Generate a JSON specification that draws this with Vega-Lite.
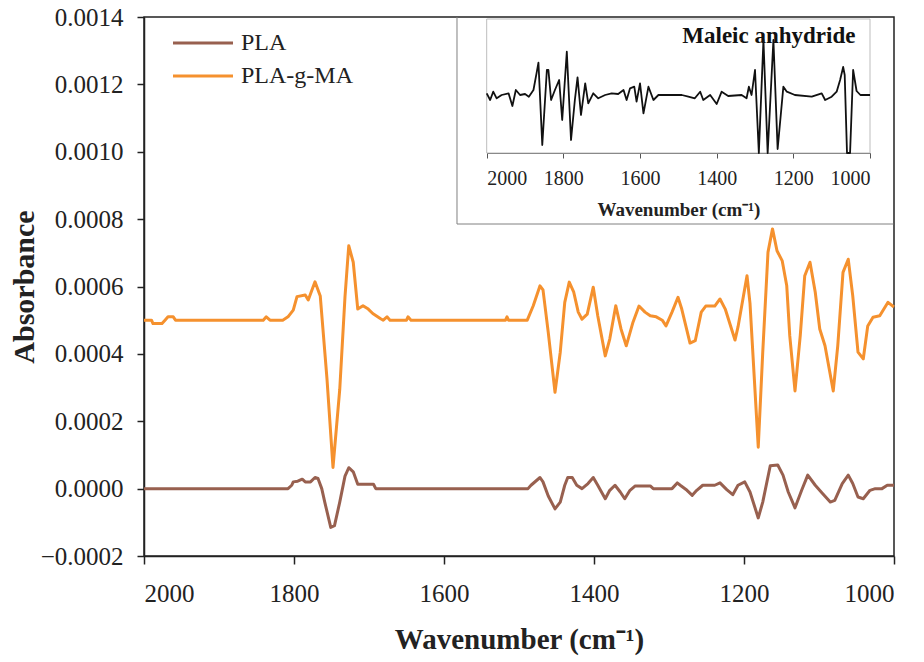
{
  "$schema": "https://vega.github.io/schema/vega-lite/v6.json",
  "width": 750,
  "height": 539,
  "autosize": {"type": "none"},
  "padding": {"left": 144, "top": 17, "right": 30, "bottom": 106},
  "background": "white",
  "config": {
    "font": "Liberation Serif",
    "view": {"stroke": "#222222", "strokeWidth": 1.5},
    "axis": {"grid": false, "labelFont": "Liberation Serif", "titleFont": "Liberation Serif", "labelColor": "#222222", "titleColor": "#222222", "domainColor": "#222222", "tickColor": "#222222"},
    "legend": {"labelFont": "Liberation Serif"},
    "style": {"guide-label": {"font": "Liberation Serif"}, "guide-title": {"font": "Liberation Serif"}}
  },
  "datasets": {
    "spectra": [
      {"series": "PLA", "wavenumber": 2000, "absorbance": 0},
      {"series": "PLA", "wavenumber": 1808, "absorbance": 0},
      {"series": "PLA", "wavenumber": 1803, "absorbance": 0.00001},
      {"series": "PLA", "wavenumber": 1801, "absorbance": 0.00002},
      {"series": "PLA", "wavenumber": 1795, "absorbance": 0.000022},
      {"series": "PLA", "wavenumber": 1789, "absorbance": 0.000028},
      {"series": "PLA", "wavenumber": 1785, "absorbance": 0.00002},
      {"series": "PLA", "wavenumber": 1778, "absorbance": 0.00002},
      {"series": "PLA", "wavenumber": 1772, "absorbance": 0.000033},
      {"series": "PLA", "wavenumber": 1768, "absorbance": 0.00003},
      {"series": "PLA", "wavenumber": 1763, "absorbance": 0},
      {"series": "PLA", "wavenumber": 1759, "absorbance": -0.00004},
      {"series": "PLA", "wavenumber": 1751, "absorbance": -0.000115},
      {"series": "PLA", "wavenumber": 1746, "absorbance": -0.00011},
      {"series": "PLA", "wavenumber": 1739, "absorbance": -0.00004},
      {"series": "PLA", "wavenumber": 1732, "absorbance": 0.000037},
      {"series": "PLA", "wavenumber": 1727, "absorbance": 0.000062},
      {"series": "PLA", "wavenumber": 1721, "absorbance": 0.00005},
      {"series": "PLA", "wavenumber": 1715, "absorbance": 0.000013},
      {"series": "PLA", "wavenumber": 1694, "absorbance": 0.000013},
      {"series": "PLA", "wavenumber": 1691, "absorbance": 0},
      {"series": "PLA", "wavenumber": 1488, "absorbance": 0},
      {"series": "PLA", "wavenumber": 1484, "absorbance": 0.00001},
      {"series": "PLA", "wavenumber": 1472, "absorbance": 0.000033},
      {"series": "PLA", "wavenumber": 1468, "absorbance": 0.00002},
      {"series": "PLA", "wavenumber": 1461, "absorbance": -0.000022},
      {"series": "PLA", "wavenumber": 1452, "absorbance": -0.00006},
      {"series": "PLA", "wavenumber": 1445, "absorbance": -0.00004},
      {"series": "PLA", "wavenumber": 1439, "absorbance": 0.00001},
      {"series": "PLA", "wavenumber": 1435, "absorbance": 0.000033},
      {"series": "PLA", "wavenumber": 1429, "absorbance": 0.000033},
      {"series": "PLA", "wavenumber": 1423, "absorbance": 0.00001},
      {"series": "PLA", "wavenumber": 1416, "absorbance": 0},
      {"series": "PLA", "wavenumber": 1408, "absorbance": 0.000015},
      {"series": "PLA", "wavenumber": 1401, "absorbance": 0.000033},
      {"series": "PLA", "wavenumber": 1395, "absorbance": 0.00001},
      {"series": "PLA", "wavenumber": 1385, "absorbance": -0.00003},
      {"series": "PLA", "wavenumber": 1379, "absorbance": -0.000005},
      {"series": "PLA", "wavenumber": 1372, "absorbance": 0.00001},
      {"series": "PLA", "wavenumber": 1365, "absorbance": -0.00001},
      {"series": "PLA", "wavenumber": 1359, "absorbance": -0.00003},
      {"series": "PLA", "wavenumber": 1352, "absorbance": -0.000005},
      {"series": "PLA", "wavenumber": 1345, "absorbance": 0.000008},
      {"series": "PLA", "wavenumber": 1325, "absorbance": 0.000008},
      {"series": "PLA", "wavenumber": 1321, "absorbance": 0},
      {"series": "PLA", "wavenumber": 1296, "absorbance": 0},
      {"series": "PLA", "wavenumber": 1289, "absorbance": 0.000017},
      {"series": "PLA", "wavenumber": 1285, "absorbance": 0.00001},
      {"series": "PLA", "wavenumber": 1276, "absorbance": -0.000005},
      {"series": "PLA", "wavenumber": 1269, "absorbance": -0.00002},
      {"series": "PLA", "wavenumber": 1263, "absorbance": -0.000005},
      {"series": "PLA", "wavenumber": 1255, "absorbance": 0.00001},
      {"series": "PLA", "wavenumber": 1239, "absorbance": 0.00001},
      {"series": "PLA", "wavenumber": 1232, "absorbance": 0.000017},
      {"series": "PLA", "wavenumber": 1223, "absorbance": -0.000003},
      {"series": "PLA", "wavenumber": 1215, "absorbance": -0.000018},
      {"series": "PLA", "wavenumber": 1208, "absorbance": 0.00001},
      {"series": "PLA", "wavenumber": 1199, "absorbance": 0.00002},
      {"series": "PLA", "wavenumber": 1192, "absorbance": -0.00001},
      {"series": "PLA", "wavenumber": 1181, "absorbance": -0.000087},
      {"series": "PLA", "wavenumber": 1175, "absorbance": -0.00004},
      {"series": "PLA", "wavenumber": 1165, "absorbance": 0.000068},
      {"series": "PLA", "wavenumber": 1155, "absorbance": 0.00007},
      {"series": "PLA", "wavenumber": 1148, "absorbance": 0.00004},
      {"series": "PLA", "wavenumber": 1141, "absorbance": -0.00001},
      {"series": "PLA", "wavenumber": 1132, "absorbance": -0.000057},
      {"series": "PLA", "wavenumber": 1123, "absorbance": -0.000004},
      {"series": "PLA", "wavenumber": 1115, "absorbance": 0.00004},
      {"series": "PLA", "wavenumber": 1105, "absorbance": 0.00001},
      {"series": "PLA", "wavenumber": 1095, "absorbance": -0.000015},
      {"series": "PLA", "wavenumber": 1085, "absorbance": -0.00004},
      {"series": "PLA", "wavenumber": 1079, "absorbance": -0.000035},
      {"series": "PLA", "wavenumber": 1069, "absorbance": 0.000015},
      {"series": "PLA", "wavenumber": 1061, "absorbance": 0.00004},
      {"series": "PLA", "wavenumber": 1055, "absorbance": 0.000015},
      {"series": "PLA", "wavenumber": 1048, "absorbance": -0.000025},
      {"series": "PLA", "wavenumber": 1041, "absorbance": -0.00003},
      {"series": "PLA", "wavenumber": 1032, "absorbance": -0.000005},
      {"series": "PLA", "wavenumber": 1025, "absorbance": 0},
      {"series": "PLA", "wavenumber": 1016, "absorbance": 0},
      {"series": "PLA", "wavenumber": 1009, "absorbance": 0.00001},
      {"series": "PLA", "wavenumber": 1000, "absorbance": 0.00001},
      {"series": "PLA-g-MA", "wavenumber": 2000, "absorbance": 0.0005},
      {"series": "PLA-g-MA", "wavenumber": 1990, "absorbance": 0.0005},
      {"series": "PLA-g-MA", "wavenumber": 1988, "absorbance": 0.00049},
      {"series": "PLA-g-MA", "wavenumber": 1976, "absorbance": 0.00049},
      {"series": "PLA-g-MA", "wavenumber": 1972, "absorbance": 0.0005},
      {"series": "PLA-g-MA", "wavenumber": 1968, "absorbance": 0.00051},
      {"series": "PLA-g-MA", "wavenumber": 1961, "absorbance": 0.00051},
      {"series": "PLA-g-MA", "wavenumber": 1958, "absorbance": 0.0005},
      {"series": "PLA-g-MA", "wavenumber": 1841, "absorbance": 0.0005},
      {"series": "PLA-g-MA", "wavenumber": 1837, "absorbance": 0.00051},
      {"series": "PLA-g-MA", "wavenumber": 1832, "absorbance": 0.0005},
      {"series": "PLA-g-MA", "wavenumber": 1815, "absorbance": 0.0005},
      {"series": "PLA-g-MA", "wavenumber": 1808, "absorbance": 0.00051},
      {"series": "PLA-g-MA", "wavenumber": 1801, "absorbance": 0.00053},
      {"series": "PLA-g-MA", "wavenumber": 1796, "absorbance": 0.00057},
      {"series": "PLA-g-MA", "wavenumber": 1785, "absorbance": 0.000575},
      {"series": "PLA-g-MA", "wavenumber": 1781, "absorbance": 0.00056},
      {"series": "PLA-g-MA", "wavenumber": 1772, "absorbance": 0.000614},
      {"series": "PLA-g-MA", "wavenumber": 1765, "absorbance": 0.000572},
      {"series": "PLA-g-MA", "wavenumber": 1756, "absorbance": 0.000325},
      {"series": "PLA-g-MA", "wavenumber": 1748, "absorbance": 0.000063},
      {"series": "PLA-g-MA", "wavenumber": 1739, "absorbance": 0.000295},
      {"series": "PLA-g-MA", "wavenumber": 1732, "absorbance": 0.00057},
      {"series": "PLA-g-MA", "wavenumber": 1727, "absorbance": 0.000721},
      {"series": "PLA-g-MA", "wavenumber": 1721, "absorbance": 0.000672},
      {"series": "PLA-g-MA", "wavenumber": 1715, "absorbance": 0.000533},
      {"series": "PLA-g-MA", "wavenumber": 1708, "absorbance": 0.000543},
      {"series": "PLA-g-MA", "wavenumber": 1701, "absorbance": 0.000533},
      {"series": "PLA-g-MA", "wavenumber": 1695, "absorbance": 0.00052},
      {"series": "PLA-g-MA", "wavenumber": 1685, "absorbance": 0.000505},
      {"series": "PLA-g-MA", "wavenumber": 1681, "absorbance": 0.0005},
      {"series": "PLA-g-MA", "wavenumber": 1676, "absorbance": 0.00051},
      {"series": "PLA-g-MA", "wavenumber": 1672, "absorbance": 0.0005},
      {"series": "PLA-g-MA", "wavenumber": 1650, "absorbance": 0.0005},
      {"series": "PLA-g-MA", "wavenumber": 1648, "absorbance": 0.00051},
      {"series": "PLA-g-MA", "wavenumber": 1644, "absorbance": 0.0005},
      {"series": "PLA-g-MA", "wavenumber": 1518, "absorbance": 0.0005},
      {"series": "PLA-g-MA", "wavenumber": 1516, "absorbance": 0.00051},
      {"series": "PLA-g-MA", "wavenumber": 1514, "absorbance": 0.0005},
      {"series": "PLA-g-MA", "wavenumber": 1489, "absorbance": 0.0005},
      {"series": "PLA-g-MA", "wavenumber": 1481, "absorbance": 0.000543},
      {"series": "PLA-g-MA", "wavenumber": 1472, "absorbance": 0.000602},
      {"series": "PLA-g-MA", "wavenumber": 1468, "absorbance": 0.00059},
      {"series": "PLA-g-MA", "wavenumber": 1461, "absorbance": 0.000464},
      {"series": "PLA-g-MA", "wavenumber": 1452, "absorbance": 0.000286},
      {"series": "PLA-g-MA", "wavenumber": 1445, "absorbance": 0.000405},
      {"series": "PLA-g-MA", "wavenumber": 1439, "absorbance": 0.000553},
      {"series": "PLA-g-MA", "wavenumber": 1433, "absorbance": 0.000613},
      {"series": "PLA-g-MA", "wavenumber": 1427, "absorbance": 0.000583},
      {"series": "PLA-g-MA", "wavenumber": 1421, "absorbance": 0.000524},
      {"series": "PLA-g-MA", "wavenumber": 1416, "absorbance": 0.000503},
      {"series": "PLA-g-MA", "wavenumber": 1409, "absorbance": 0.000518},
      {"series": "PLA-g-MA", "wavenumber": 1401, "absorbance": 0.000598},
      {"series": "PLA-g-MA", "wavenumber": 1395, "absorbance": 0.000513},
      {"series": "PLA-g-MA", "wavenumber": 1385, "absorbance": 0.000394},
      {"series": "PLA-g-MA", "wavenumber": 1379, "absorbance": 0.000444},
      {"series": "PLA-g-MA", "wavenumber": 1371, "absorbance": 0.000543},
      {"series": "PLA-g-MA", "wavenumber": 1364, "absorbance": 0.000474},
      {"series": "PLA-g-MA", "wavenumber": 1357, "absorbance": 0.000424},
      {"series": "PLA-g-MA", "wavenumber": 1348, "absorbance": 0.000494},
      {"series": "PLA-g-MA", "wavenumber": 1340, "absorbance": 0.000542},
      {"series": "PLA-g-MA", "wavenumber": 1332, "absorbance": 0.000524},
      {"series": "PLA-g-MA", "wavenumber": 1325, "absorbance": 0.000513},
      {"series": "PLA-g-MA", "wavenumber": 1317, "absorbance": 0.00051},
      {"series": "PLA-g-MA", "wavenumber": 1309, "absorbance": 0.0005},
      {"series": "PLA-g-MA", "wavenumber": 1304, "absorbance": 0.000483},
      {"series": "PLA-g-MA", "wavenumber": 1296, "absorbance": 0.000524},
      {"series": "PLA-g-MA", "wavenumber": 1288, "absorbance": 0.000568},
      {"series": "PLA-g-MA", "wavenumber": 1283, "absorbance": 0.000533},
      {"series": "PLA-g-MA", "wavenumber": 1272, "absorbance": 0.000432},
      {"series": "PLA-g-MA", "wavenumber": 1265, "absorbance": 0.000439},
      {"series": "PLA-g-MA", "wavenumber": 1257, "absorbance": 0.000524},
      {"series": "PLA-g-MA", "wavenumber": 1251, "absorbance": 0.000542},
      {"series": "PLA-g-MA", "wavenumber": 1239, "absorbance": 0.000542},
      {"series": "PLA-g-MA", "wavenumber": 1232, "absorbance": 0.000563},
      {"series": "PLA-g-MA", "wavenumber": 1225, "absorbance": 0.000533},
      {"series": "PLA-g-MA", "wavenumber": 1212, "absorbance": 0.000441},
      {"series": "PLA-g-MA", "wavenumber": 1208, "absorbance": 0.00048},
      {"series": "PLA-g-MA", "wavenumber": 1196, "absorbance": 0.000632},
      {"series": "PLA-g-MA", "wavenumber": 1192, "absorbance": 0.00055},
      {"series": "PLA-g-MA", "wavenumber": 1181, "absorbance": 0.000123},
      {"series": "PLA-g-MA", "wavenumber": 1175, "absorbance": 0.000405},
      {"series": "PLA-g-MA", "wavenumber": 1168, "absorbance": 0.000702},
      {"series": "PLA-g-MA", "wavenumber": 1162, "absorbance": 0.000771},
      {"series": "PLA-g-MA", "wavenumber": 1156, "absorbance": 0.000706},
      {"series": "PLA-g-MA", "wavenumber": 1149, "absorbance": 0.000676},
      {"series": "PLA-g-MA", "wavenumber": 1143, "absorbance": 0.000602},
      {"series": "PLA-g-MA", "wavenumber": 1139, "absorbance": 0.000454},
      {"series": "PLA-g-MA", "wavenumber": 1132, "absorbance": 0.00029},
      {"series": "PLA-g-MA", "wavenumber": 1125, "absorbance": 0.000454},
      {"series": "PLA-g-MA", "wavenumber": 1119, "absorbance": 0.000632},
      {"series": "PLA-g-MA", "wavenumber": 1112, "absorbance": 0.000672},
      {"series": "PLA-g-MA", "wavenumber": 1105, "absorbance": 0.000583},
      {"series": "PLA-g-MA", "wavenumber": 1099, "absorbance": 0.000474},
      {"series": "PLA-g-MA", "wavenumber": 1092, "absorbance": 0.000424},
      {"series": "PLA-g-MA", "wavenumber": 1081, "absorbance": 0.00029},
      {"series": "PLA-g-MA", "wavenumber": 1075, "absorbance": 0.000424},
      {"series": "PLA-g-MA", "wavenumber": 1068, "absorbance": 0.000642},
      {"series": "PLA-g-MA", "wavenumber": 1061, "absorbance": 0.000681},
      {"series": "PLA-g-MA", "wavenumber": 1055, "absorbance": 0.000572},
      {"series": "PLA-g-MA", "wavenumber": 1048, "absorbance": 0.000405},
      {"series": "PLA-g-MA", "wavenumber": 1041, "absorbance": 0.000385},
      {"series": "PLA-g-MA", "wavenumber": 1035, "absorbance": 0.000483},
      {"series": "PLA-g-MA", "wavenumber": 1028, "absorbance": 0.000509},
      {"series": "PLA-g-MA", "wavenumber": 1019, "absorbance": 0.000513},
      {"series": "PLA-g-MA", "wavenumber": 1008, "absorbance": 0.000553},
      {"series": "PLA-g-MA", "wavenumber": 1000, "absorbance": 0.000539}
    ],
    "maleic": [
      {"wavenumber": 2000, "intensity": 59.7},
      {"wavenumber": 1991, "intensity": 53},
      {"wavenumber": 1983, "intensity": 61.3},
      {"wavenumber": 1974, "intensity": 54.7},
      {"wavenumber": 1961, "intensity": 58},
      {"wavenumber": 1943, "intensity": 59.7},
      {"wavenumber": 1933, "intensity": 47},
      {"wavenumber": 1924, "intensity": 63},
      {"wavenumber": 1913, "intensity": 58},
      {"wavenumber": 1900, "intensity": 59},
      {"wavenumber": 1890, "intensity": 56.3},
      {"wavenumber": 1878, "intensity": 63},
      {"wavenumber": 1870, "intensity": 79.7},
      {"wavenumber": 1865, "intensity": 90.3},
      {"wavenumber": 1855, "intensity": 8},
      {"wavenumber": 1843, "intensity": 83},
      {"wavenumber": 1839, "intensity": 83},
      {"wavenumber": 1832, "intensity": 53},
      {"wavenumber": 1822, "intensity": 63},
      {"wavenumber": 1811, "intensity": 73},
      {"wavenumber": 1803, "intensity": 33},
      {"wavenumber": 1791, "intensity": 101.3},
      {"wavenumber": 1780, "intensity": 13},
      {"wavenumber": 1770, "intensity": 53},
      {"wavenumber": 1763, "intensity": 75.7},
      {"wavenumber": 1754, "intensity": 38},
      {"wavenumber": 1743, "intensity": 69.7},
      {"wavenumber": 1735, "intensity": 49.7},
      {"wavenumber": 1722, "intensity": 59.7},
      {"wavenumber": 1709, "intensity": 54.7},
      {"wavenumber": 1691, "intensity": 58},
      {"wavenumber": 1674, "intensity": 59.7},
      {"wavenumber": 1657, "intensity": 59},
      {"wavenumber": 1643, "intensity": 63},
      {"wavenumber": 1635, "intensity": 53},
      {"wavenumber": 1626, "intensity": 64.7},
      {"wavenumber": 1615, "intensity": 66.3},
      {"wavenumber": 1609, "intensity": 51.3},
      {"wavenumber": 1600, "intensity": 69.7},
      {"wavenumber": 1591, "intensity": 39.7},
      {"wavenumber": 1578, "intensity": 66.3},
      {"wavenumber": 1565, "intensity": 53},
      {"wavenumber": 1552, "intensity": 58},
      {"wavenumber": 1491, "intensity": 58},
      {"wavenumber": 1474, "intensity": 56.3},
      {"wavenumber": 1457, "intensity": 54.7},
      {"wavenumber": 1443, "intensity": 61.3},
      {"wavenumber": 1435, "intensity": 53},
      {"wavenumber": 1417, "intensity": 58},
      {"wavenumber": 1400, "intensity": 49},
      {"wavenumber": 1387, "intensity": 61.3},
      {"wavenumber": 1370, "intensity": 57},
      {"wavenumber": 1335, "intensity": 58},
      {"wavenumber": 1322, "intensity": 54.7},
      {"wavenumber": 1316, "intensity": 66.3},
      {"wavenumber": 1309, "intensity": 58},
      {"wavenumber": 1300, "intensity": 83},
      {"wavenumber": 1290, "intensity": 0},
      {"wavenumber": 1278, "intensity": 113},
      {"wavenumber": 1267, "intensity": 0},
      {"wavenumber": 1252, "intensity": 113},
      {"wavenumber": 1241, "intensity": 4},
      {"wavenumber": 1226, "intensity": 66.3},
      {"wavenumber": 1217, "intensity": 61.3},
      {"wavenumber": 1196, "intensity": 58},
      {"wavenumber": 1152, "intensity": 56.3},
      {"wavenumber": 1126, "intensity": 59.7},
      {"wavenumber": 1117, "intensity": 53},
      {"wavenumber": 1100, "intensity": 56.3},
      {"wavenumber": 1087, "intensity": 61.3},
      {"wavenumber": 1078, "intensity": 73},
      {"wavenumber": 1070, "intensity": 86},
      {"wavenumber": 1066, "intensity": 78},
      {"wavenumber": 1060, "intensity": 0},
      {"wavenumber": 1052, "intensity": 0},
      {"wavenumber": 1044, "intensity": 83},
      {"wavenumber": 1035, "intensity": 62},
      {"wavenumber": 1025, "intensity": 58},
      {"wavenumber": 1000, "intensity": 58}
    ]
  },
  "layer": [
    {
      "data": {"name": "spectra"},
      "mark": {"type": "line", "strokeWidth": 3, "strokeJoin": "round"},
      "encoding": {
        "x": {
          "field": "wavenumber", "type": "quantitative",
          "scale": {"domain": [1000, 2000], "reverse": true, "nice": false, "zero": false},
          "axis": {"values": [2000, 1800, 1600, 1400, 1200, 1000], "format": "d", "labelFont": "Liberation Serif", "titleFont": "Liberation Serif", "labelFontSize": 25, "labelColor": "#222222", "titleColor": "#222222", "domainColor": "#222222", "tickColor": "#222222", "tickSize": 8, "tickWidth": 1.5, "domainWidth": 1.5, "labelPadding": 17, "title": "Wavenumber (cm⁻¹)", "titleFontSize": 29, "titleFontWeight": "bold", "titlePadding": 19}
        },
        "y": {
          "field": "absorbance", "type": "quantitative",
          "scale": {"domain": [-0.0002, 0.0014], "nice": false, "zero": false},
          "axis": {"values": [-0.0002, 0, 0.0002, 0.0004, 0.0006, 0.0008, 0.001, 0.0012, 0.0014], "format": ".4f", "labelFont": "Liberation Serif", "titleFont": "Liberation Serif", "labelFontSize": 25, "labelColor": "#222222", "titleColor": "#222222", "domainColor": "#222222", "tickColor": "#222222", "tickSize": 7, "tickWidth": 1.5, "domainWidth": 1.5, "labelPadding": 14, "title": "Absorbance", "titleFontSize": 30, "titleFontWeight": "bold", "titlePadding": 1}
        },
        "color": {
          "field": "series", "type": "nominal",
          "scale": {"domain": ["PLA", "PLA-g-MA"], "range": ["#98604F", "#F5912E"]},
          "legend": {"title": null, "orient": "none", "legendX": 27, "legendY": 14, "labelFont": "Liberation Serif", "labelFontSize": 24, "labelColor": "#222222", "symbolType": "M-1,0H5", "symbolSize": 400, "symbolStrokeWidth": 3, "labelOffset": 46, "rowPadding": 9, "padding": 0}
        }
      }
    },
    {
      "data": {"name": "maleic"},
      "layer": [
        {
          "data": {"values": [{"frame": "inset"}]},
          "mark": {"type": "rect", "fill": null, "fillOpacity": 0, "stroke": "#bdbdbd", "strokeWidth": 1},
          "encoding": {
            "x": {"datum": 2000, "type": "quantitative", "scale": {"domain": [1000, 2000], "reverse": true, "nice": false, "zero": false, "range": [342.7, 726]}},
            "x2": {"datum": 1000},
            "y": {"datum": 0, "type": "quantitative", "scale": {"domain": [0, 134], "nice": false, "zero": false, "range": [136, 2]}, "axis": null},
            "y2": {"datum": 134}
          }
        },
        {
          "data": {"values": [{"frame": "left"}]},
          "mark": {"type": "rule", "stroke": "#808080", "strokeWidth": 1},
          "encoding": {
            "x": {"datum": 2077.5, "type": "quantitative", "scale": {"domain": [1000, 2000], "reverse": true, "nice": false, "zero": false, "range": [342.7, 726]}},
            "y": {"datum": -71, "type": "quantitative", "scale": {"domain": [0, 134], "nice": false, "zero": false, "range": [136, 2]}, "axis": null},
            "y2": {"datum": 136}
          }
        },
        {
          "data": {"values": [{"frame": "bottom"}]},
          "mark": {"type": "rule", "stroke": "#808080", "strokeWidth": 1},
          "encoding": {
            "x": {"datum": 2077.5, "type": "quantitative", "scale": {"domain": [1000, 2000], "reverse": true, "nice": false, "zero": false, "range": [342.7, 726]}},
            "x2": {"datum": 939},
            "y": {"datum": -71, "type": "quantitative", "scale": {"domain": [0, 134], "nice": false, "zero": false, "range": [136, 2]}, "axis": null}
          }
        },
        {
          "mark": {"type": "line", "stroke": "#111111", "strokeWidth": 1.8, "strokeJoin": "round"},
          "encoding": {
            "x": {
              "field": "wavenumber", "type": "quantitative",
              "scale": {"domain": [1000, 2000], "reverse": true, "nice": false, "zero": false, "range": [342.7, 726]},
              "axis": {"orient": "bottom", "offset": -403, "values": [2000, 1800, 1600, 1400, 1200, 1000], "format": "d", "labelFont": "Liberation Serif", "titleFont": "Liberation Serif", "labelFontSize": 20, "labelColor": "#222222", "titleColor": "#222222", "tickSize": 5, "tickWidth": 1, "domainWidth": 1, "domainColor": "#555555", "tickColor": "#555555", "labelPadding": 10, "title": "Wavenumber (cm⁻¹)", "titleFontSize": 19, "titleFontWeight": "bold", "titlePadding": 12}
            },
            "y": {
              "field": "intensity", "type": "quantitative",
              "scale": {"domain": [0, 134], "nice": false, "zero": false, "range": [136, 2]},
              "axis": null
            }
          }
        },
        {
          "data": {"values": [{"label": "Maleic anhydride"}]},
          "mark": {"type": "text", "align": "right", "baseline": "alphabetic", "fontSize": 23, "fontWeight": "bold", "font": "Liberation Serif", "color": "#111111"},
          "encoding": {
            "x": {"datum": 1038, "type": "quantitative", "scale": {"domain": [1000, 2000], "reverse": true, "nice": false, "zero": false, "range": [342.7, 726]}},
            "y": {"datum": 110, "type": "quantitative", "scale": {"domain": [0, 134], "nice": false, "zero": false, "range": [136, 2]}, "axis": null},
            "text": {"field": "label"}
          }
        }
      ]
    }
  ],
  "resolve": {"scale": {"x": "independent", "y": "independent", "color": "independent"}, "axis": {"x": "independent", "y": "independent"}}
}
